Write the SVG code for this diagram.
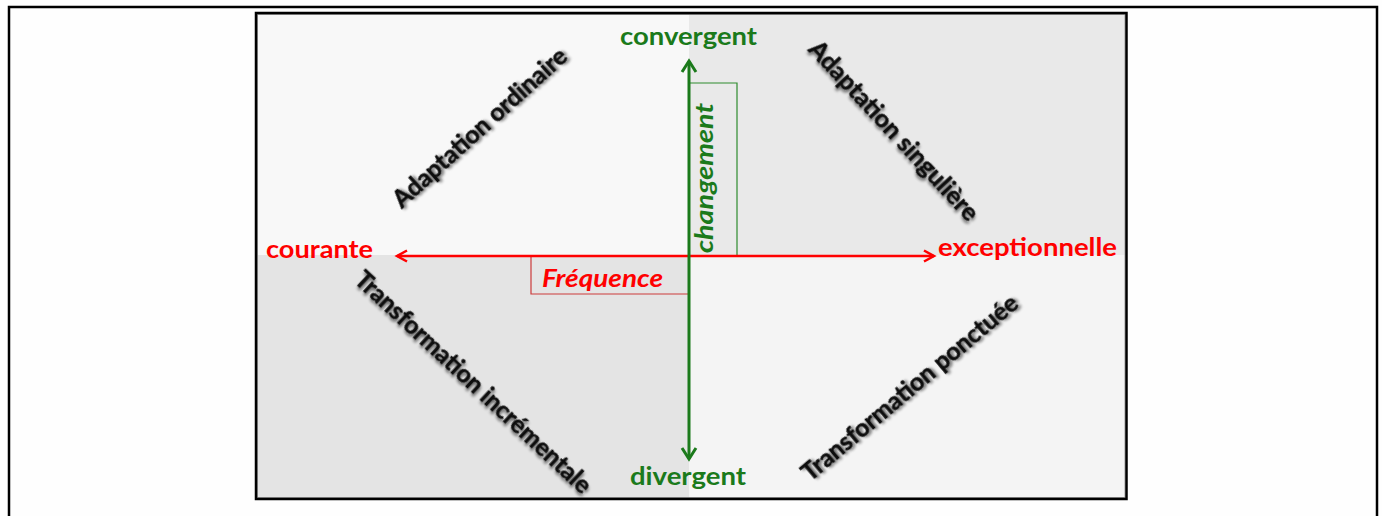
<svg xmlns="http://www.w3.org/2000/svg" width="1382" height="516" viewBox="0 0 1382 516">
  <style>
    .lbl { font-family: Lato, "Liberation Sans", sans-serif; font-weight: bold; }
    .axis { font-size: 25px; }
    .red { fill: #ff0000; }
    .green { fill: #1b7a1b; }
    .diag { font-size: 25px; fill: #111111; stroke: #111111; stroke-width: 0.5; filter: url(#shadow); }
    .bracket { fill: none; stroke-width: 1.2; }
  </style>
  <defs>
    <filter id="shadow" x="-10%" y="-30%" width="120%" height="160%">
      <feGaussianBlur in="SourceAlpha" stdDeviation="1.6" result="b"/>
      <feOffset in="b" dx="1.5" dy="1.5" result="o"/>
      <feComponentTransfer in="o" result="s"><feFuncA type="linear" slope="0.55"/></feComponentTransfer>
      <feMerge><feMergeNode in="s"/><feMergeNode in="SourceGraphic"/></feMerge>
    </filter>
    <marker id="arrRed" markerUnits="userSpaceOnUse" markerWidth="16" markerHeight="16" viewBox="-12 -8 14 16" refX="0" refY="0" orient="auto-start-reverse">
      <path d="M-10,-5.5 L0,0 L-10,5.5" fill="none" stroke="#ff0000" stroke-width="2.5" stroke-linejoin="miter"/>
    </marker>
    <marker id="arrGreen" markerUnits="userSpaceOnUse" markerWidth="18" markerHeight="18" viewBox="-13 -9 15 18" refX="0" refY="0" orient="auto-start-reverse">
      <path d="M-11,-7 L0,0 L-11,7" fill="none" stroke="#1b7a1b" stroke-width="3" stroke-linejoin="miter"/>
    </marker>
  </defs>

  <rect x="0" y="0" width="1382" height="516" fill="#fefefe"/>
  <rect id="outer-frame" x="9" y="7" width="1368" height="600" fill="none" stroke="#000" stroke-width="2.5"/>

  <g id="quadrants">
    <rect x="256" y="13" width="433" height="242" fill="#f8f8f8"/>
    <rect x="689" y="13" width="437" height="242" fill="#e9e9e9"/>
    <rect x="256" y="255" width="433" height="244" fill="#e4e4e4"/>
    <rect x="689" y="255" width="437" height="244" fill="#f4f4f4"/>
    <rect x="257.5" y="14.5" width="867.5" height="483" fill="none" stroke="#9a9a9a" stroke-width="1"/>
    <rect x="256" y="13" width="870.5" height="486" fill="none" stroke="#000" stroke-width="2.5"/>
  </g>

  <g id="connectors">
    <path class="bracket" d="M531,256 V294 H689" stroke="#cc3b3b"/>
    <path class="bracket" d="M689,83 H737 V255" stroke="#2e8b2e"/>
    <line x1="397" y1="256" x2="934" y2="256" stroke="#ff0000" stroke-width="2.5" marker-start="url(#arrRed)" marker-end="url(#arrRed)"/>
    <line x1="689" y1="61" x2="689" y2="459" stroke="#1b7a1b" stroke-width="3" marker-start="url(#arrGreen)" marker-end="url(#arrGreen)"/>
  </g>

  <g id="axis-convergent"><text class="lbl axis green" x="688.5" y="45" text-anchor="middle" textLength="137" lengthAdjust="spacingAndGlyphs">convergent</text></g>
  <g id="axis-divergent"><text class="lbl axis green" x="688" y="485" text-anchor="middle" textLength="116" lengthAdjust="spacingAndGlyphs">divergent</text></g>
  <g id="axis-courante"><text class="lbl axis red" x="266" y="258" textLength="107" lengthAdjust="spacingAndGlyphs">courante</text></g>
  <g id="axis-exceptionnelle"><text class="lbl axis red" x="938" y="256" textLength="179" lengthAdjust="spacingAndGlyphs">exceptionnelle</text></g>
  <g id="label-frequence"><text class="lbl axis red" x="542" y="287" font-style="italic" textLength="121" lengthAdjust="spacingAndGlyphs">Fréquence</text></g>
  <g id="label-changement"><text class="lbl axis green" transform="translate(713,178) rotate(-90)" x="0" y="0" text-anchor="middle" font-style="italic" textLength="150" lengthAdjust="spacingAndGlyphs">changement</text></g>

  <g id="q-adaptation-ordinaire"><text class="lbl diag" transform="translate(480,128) rotate(-42)" x="0" y="8" text-anchor="middle" textLength="225" lengthAdjust="spacingAndGlyphs">Adaptation ordinaire</text></g>
  <g id="q-adaptation-singuliere"><text class="lbl diag" transform="translate(893.5,131) rotate(47)" x="0" y="8" text-anchor="middle" textLength="236" lengthAdjust="spacingAndGlyphs">Adaptation singulière</text></g>
  <g id="q-transformation-incrementale"><text class="lbl diag" transform="translate(473,382.5) rotate(43)" x="0" y="8" text-anchor="middle" textLength="313" lengthAdjust="spacingAndGlyphs">Transformation incrémentale</text></g>
  <g id="q-transformation-ponctuee"><text class="lbl diag" transform="translate(910,388) rotate(-40)" x="0" y="8" text-anchor="middle" textLength="274" lengthAdjust="spacingAndGlyphs">Transformation ponctuée</text></g>
</svg>
